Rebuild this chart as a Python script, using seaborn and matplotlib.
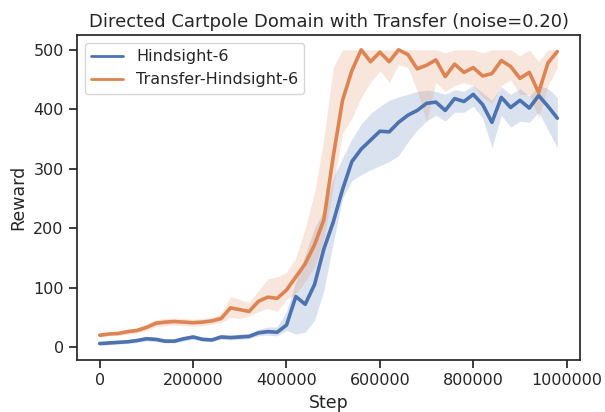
import numpy as np
import pandas as pd
import matplotlib
matplotlib.use("Agg")
import matplotlib.pyplot as plt
import seaborn as sns

steps = [i * 20000 for i in range(50)]

hind_mean = [6, 7, 8, 9, 11, 14, 13, 10, 10, 14,
             17, 13, 12, 17, 16, 17, 18, 24, 26, 25,
             37, 85, 72, 105, 165, 210, 265, 312, 333, 348,
             363, 362, 378, 390, 398, 410, 412, 398, 418, 413,
             425, 408, 378, 420, 403, 415, 402, 423, 405, 385]
hind_low = [3, 4, 5, 6, 8, 10, 9, 7, 7, 10,
            13, 10, 9, 13, 12, 13, 14, 19, 20, 19,
            28, 22, 25, 45, 95, 175, 250, 280, 290, 298,
            305, 312, 322, 345, 365, 380, 390, 380, 395, 395,
            405, 385, 335, 390, 370, 380, 378, 395, 365, 335]
hind_high = [9, 10, 11, 12, 14, 18, 17, 14, 14, 18,
             21, 17, 16, 21, 20, 22, 23, 30, 34, 34,
             60, 110, 155, 200, 230, 285, 318, 350, 375, 393,
             405, 415, 421, 425, 430, 432, 430, 425, 433, 430,
             440, 428, 415, 438, 425, 435, 422, 440, 435, 420]

trans_mean = [20, 22, 23, 26, 28, 33, 40, 42, 43, 42,
              41, 42, 44, 48, 66, 63, 60, 77, 84, 82,
              96, 118, 140, 172, 214, 320, 415, 465, 500, 480,
              496, 480, 500, 492, 468, 474, 483, 455, 476, 462,
              470, 456, 460, 482, 472, 452, 462, 428, 478, 497]
trans_low = [17, 19, 20, 22, 24, 28, 34, 36, 37, 36,
             35, 36, 38, 41, 50, 48, 52, 60, 65, 60,
             80, 90, 110, 135, 180, 270, 360, 385, 420, 445,
             465, 445, 475, 470, 430, 380, 445, 430, 440, 445,
             440, 420, 410, 440, 449, 425, 425, 385, 440, 470]
trans_high = [23, 25, 26, 30, 33, 39, 46, 48, 49, 48,
              47, 48, 50, 56, 85, 80, 75, 95, 115, 118,
              125, 150, 200, 260, 350, 470, 500, 500, 500, 500,
              500, 500, 500, 500, 500, 500, 500, 495, 500, 500,
              500, 495, 500, 500, 500, 490, 500, 480, 500, 500]

labels = ["Hindsight-6", "Transfer-Hindsight-6"]

sns.set_theme(style="ticks", context="notebook")
plt.rcParams['font.family'] = ['DejaVu Sans']
plt.rcParams['xtick.labelsize'] = 11.5
plt.rcParams['ytick.labelsize'] = 11.5
plt.rcParams['axes.labelsize'] = 12.5
plt.rcParams['axes.titlesize'] = 13
plt.rcParams['legend.fontsize'] = 11.5

df = pd.DataFrame({
    "Step": steps * 2,
    "Reward": hind_mean + trans_mean,
    "method": [labels[0]] * len(steps) + [labels[1]] * len(steps),
})

colors = sns.color_palette("deep")[:2]

fig, ax = plt.subplots(figsize=(6.05, 4.12), dpi=100)
sns.lineplot(data=df, x="Step", y="Reward", hue="method", palette=colors,
             ax=ax, linewidth=2.6)
ax.fill_between(steps, hind_low, hind_high, color=colors[0], alpha=0.2, linewidth=0)
ax.fill_between(steps, trans_low, trans_high, color=colors[1], alpha=0.2, linewidth=0)

ax.set_title("Directed Cartpole Domain with Transfer (noise=0.20)")
ax.set_xlabel("Step")
ax.set_ylabel("Reward")
ax.set_xticks([0, 200000, 400000, 600000, 800000, 1000000])
ax.set_xticklabels(["0", "200000", "400000", "600000", "800000", "1000000"])
ax.set_yticks([0, 100, 200, 300, 400, 500])
leg = ax.legend(loc="upper left", title=None)
for line in leg.get_lines():
    line.set_linewidth(2.0)

fig.subplots_adjust(left=0.127, right=0.959, top=0.915, bottom=0.126)
fig.savefig("out.png", dpi=100)
